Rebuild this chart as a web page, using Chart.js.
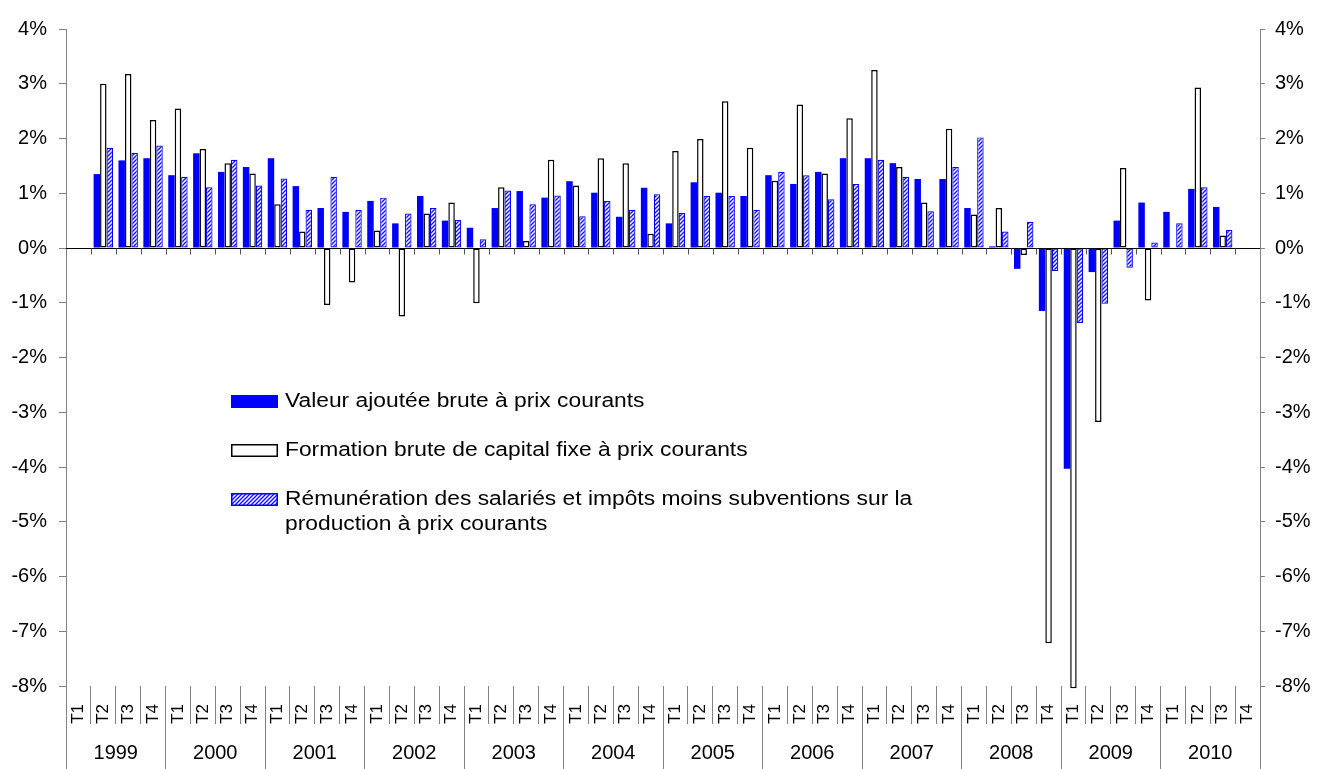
<!DOCTYPE html>
<html lang="fr">
<head>
<meta charset="utf-8">
<title>Valeur ajoutée, FBCF et rémunération</title>
<script src="https://cdn.jsdelivr.net/npm/chart.js@4/dist/chart.umd.min.js"></script>
<style>
  html, body { margin: 0; padding: 0; background: #fff; }
  #cadre { width: 1317px; height: 769px; }
</style>
</head>
<body>
<div id="cadre"><canvas id="graphique" width="1317" height="769"></canvas></div>
<script>
const annees = ['1999', '2000', '2001', '2002', '2003', '2004', '2005', '2006', '2007', '2008', '2009', '2010'];
const trimestres = annees.flatMap(() => ['T1', 'T2', 'T3', 'T4']);

// variations trimestrielles en %, 1999 T1 et 2010 T4 sans valeur
const valeurAjoutee = [null, 1.35, 1.60, 1.64,
  1.33, 1.73, 1.39, 1.48,
  1.64, 1.13, 0.73, 0.66,
  0.86, 0.45, 0.95, 0.50,
  0.37, 0.73, 1.04, 0.92,
  1.22, 1.01, 0.57, 1.10,
  0.45, 1.20, 1.01, 0.95,
  1.33, 1.17, 1.39, 1.64,
  1.64, 1.55, 1.26, 1.26,
  0.73, 0.03, -0.38, -1.15,
  -4.03, -0.44, 0.50, 0.83,
  0.66, 1.08, 0.75, null];

const fbcf = [null, 3.00, 3.18, 2.34,
  2.55, 1.81, 1.55, 1.36,
  0.80, 0.30, -1.04, -0.63,
  0.32, -1.25, 0.63, 0.83,
  -1.01, 1.11, 0.13, 1.61,
  1.14, 1.64, 1.55, 0.26,
  1.77, 1.99, 2.68, 1.83,
  1.23, 2.62, 1.36, 2.37,
  3.25, 1.48, 0.83, 2.18,
  0.61, 0.73, -0.13, -7.22,
  -8.04, -3.18, 1.46, -0.96,
  0.00, 2.93, 0.23, null];

const remuneration = [null, 1.83, 1.74, 1.87,
  1.30, 1.11, 1.61, 1.14,
  1.27, 0.70, 1.30, 0.70,
  0.92, 0.63, 0.73, 0.51,
  0.16, 1.05, 0.80, 0.96,
  0.58, 0.86, 0.70, 0.98,
  0.64, 0.95, 0.95, 0.70,
  1.39, 1.33, 0.89, 1.17,
  1.61, 1.30, 0.67, 1.48,
  2.02, 0.30, 0.48, -0.42,
  -1.37, -1.02, -0.36, 0.10,
  0.45, 1.11, 0.33, null];

const libelles = [
  'Valeur ajoutée brute à prix courants',
  'Formation brute de capital fixe à prix courants',
  'Rémunération des salariés et impôts moins subventions sur la production à prix courants'
];
const lignesLegende = [
  ['Valeur ajoutée brute à prix courants'],
  ['Formation brute de capital fixe à prix courants'],
  ['Rémunération des salariés et impôts moins subventions sur la', 'production à prix courants']
];

const police = '"Liberation Sans", Arial, sans-serif';
const gris = '#808080';

const canvas = document.getElementById('graphique');
const ctx = canvas.getContext('2d');

// motif hachuré bleu
function hachures() {
  const c = document.createElement('canvas');
  c.width = 4; c.height = 4;
  const g = c.getContext('2d');
  g.fillStyle = '#fff';
  g.fillRect(0, 0, 4, 4);
  g.strokeStyle = '#1010ff';
  g.lineWidth = 1.4;
  g.beginPath();
  g.moveTo(0, 4); g.lineTo(4, 0);
  g.moveTo(-1, 1); g.lineTo(1, -1);
  g.moveTo(3, 5); g.lineTo(5, 3);
  g.stroke();
  return ctx.createPattern(c, 'repeat');
}

// axe horizontal à 0 avec ses graduations
const axeZero = {
  id: 'axeZero',
  afterDatasetsDraw(chart) {
    const { ctx, chartArea, scales: { x, y } } = chart;
    const y0 = Math.round(y.getPixelForValue(0)) + 0.5;
    ctx.save();
    ctx.strokeStyle = '#000';
    ctx.lineWidth = 1;
    ctx.beginPath();
    ctx.moveTo(chartArea.left, y0);
    ctx.lineTo(chartArea.right, y0);
    ctx.stroke();
    ctx.strokeStyle = '#555';
    ctx.beginPath();
    for (let i = 1; i < trimestres.length; i++) {
      const xi = Math.round((x.getPixelForValue(i - 1) + x.getPixelForValue(i)) / 2) + 0.5;
      ctx.moveTo(xi, y0);
      ctx.lineTo(xi, y0 + 6);
    }
    ctx.stroke();
    ctx.restore();
  }
};

// légende placée dans la zone du graphique
const legendeInterne = {
  id: 'legendeInterne',
  afterDraw(chart) {
    const { ctx } = chart;
    const hauts = [395, 444, 493];
    ctx.save();
    ctx.font = '20px ' + police;
    ctx.textBaseline = 'middle';
    chart.data.datasets.forEach((ds, i) => {
      const top = hauts[i];
      ctx.fillStyle = ds.backgroundColor;
      ctx.fillRect(231, top, 47, 13);
      if (ds.borderWidth) {
        ctx.strokeStyle = ds.borderColor;
        ctx.lineWidth = 1.5;
        ctx.strokeRect(231.75, top + 0.75, 45.5, 11.5);
      }
      ctx.fillStyle = '#000';
      lignesLegende[i].forEach((t, k) => {
        ctx.save();
        ctx.translate(285, top + 6.5 + k * 25);
        ctx.scale(1.14, 1);
        ctx.fillText(t, 0, 0);
        ctx.restore();
      });
    });
    ctx.restore();
  }
};

const tickFont = { family: police, size: 20 };

new Chart(canvas, {
  type: 'bar',
  data: {
    labels: trimestres,
    datasets: [{
      label: libelles[0],
      data: valeurAjoutee,
      backgroundColor: '#0000ff',
      borderWidth: 0
    }, {
      label: libelles[1],
      data: fbcf,
      backgroundColor: '#ffffff',
      borderColor: '#000000',
      borderWidth: 1.5,
      borderSkipped: false,
      clip: false
    }, {
      label: libelles[2],
      data: remuneration,
      backgroundColor: hachures(),
      borderColor: '#0000ff',
      borderWidth: 1.2,
      borderSkipped: false
    }]
  },
  options: {
    responsive: false,
    animation: false,
    devicePixelRatio: 1,
    categoryPercentage: 0.78,
    barPercentage: 1,
    layout: { padding: { top: 29, left: 0, right: 0, bottom: 0 } },
    plugins: {
      legend: { display: false },
      tooltip: { enabled: false }
    },
    scales: {
      x: {
        position: 'bottom',
        weight: 0,
        offset: true,
        grid: { drawOnChartArea: false, offset: true, tickLength: 38, color: gris },
        border: { display: false },
        ticks: {
          autoSkip: false, minRotation: 90, maxRotation: 90, padding: -20,
          color: '#000', font: { family: police, size: 17 }
        },
        afterFit: s => { s.height = 38; }
      },
      annees: {
        type: 'category',
        labels: annees,
        position: 'bottom',
        weight: 1,
        offset: true,
        grid: { drawOnChartArea: false, offset: true, tickLength: 45, color: gris },
        border: { display: false },
        ticks: { autoSkip: false, maxRotation: 0, padding: -28, color: '#000', font: tickFont },
        afterFit: s => { s.height = 45; }
      },
      y: {
        position: 'left',
        min: -8,
        max: 4,
        ticks: { stepSize: 1, padding: 12, color: '#000', font: tickFont, callback: v => v + '%' },
        grid: { drawOnChartArea: false, tickLength: 7, color: gris },
        border: { color: gris },
        afterFit: s => { s.width = 66; }
      },
      y2: {
        position: 'right',
        min: -8,
        max: 4,
        ticks: { stepSize: 1, padding: 10, color: '#000', font: tickFont, callback: v => v + '%' },
        grid: { drawOnChartArea: false, tickLength: 5, color: gris },
        border: { color: gris },
        afterFit: s => { s.width = 57; }
      }
    }
  },
  plugins: [axeZero, legendeInterne]
});
</script>
</body>
</html>
